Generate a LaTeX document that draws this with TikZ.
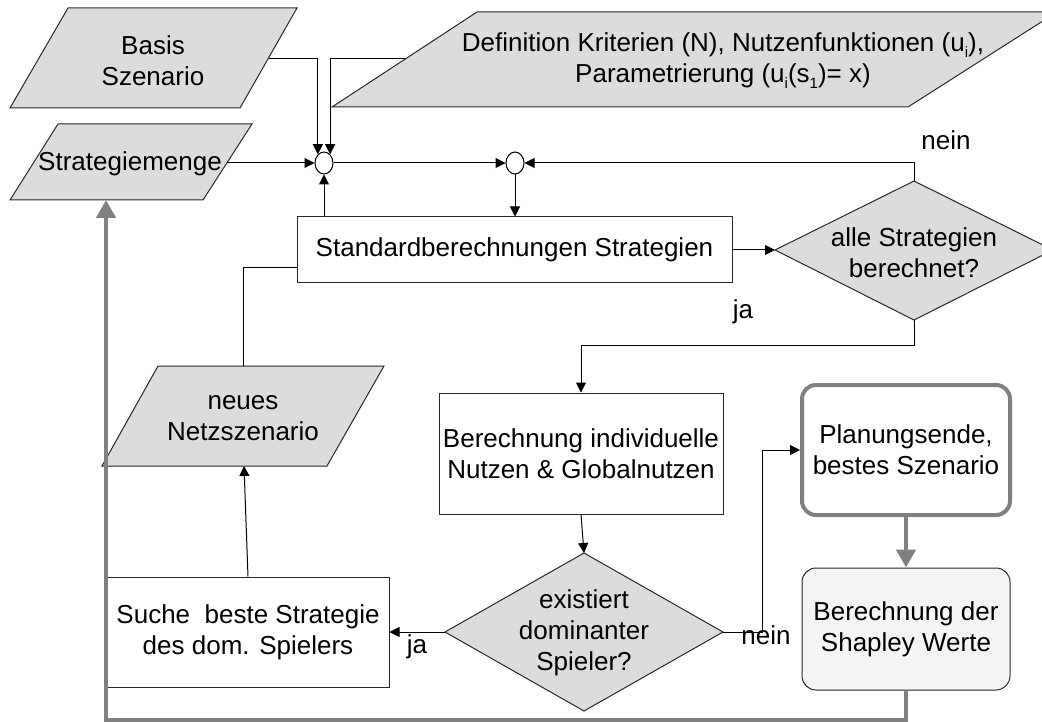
\documentclass[tikz,border=0pt]{standalone}
\usepackage{fontspec}
\setmainfont{Liberation Sans}
\usetikzlibrary{arrows.meta,shapes.geometric}
\definecolor{pfill}{RGB}{220,220,220}
\definecolor{gr}{RGB}{128,128,128}
\definecolor{shfill}{RGB}{244,244,244}
\definecolor{edge}{RGB}{40,40,40}
\newcommand\mysub[1]{\raisebox{-6pt}{\fontsize{15}{15}\selectfont #1}}
\begin{document}
\begin{tikzpicture}[x=1pt,y=-1pt,
  font=\fontsize{26}{31}\selectfont,
  line/.style={draw=black,line width=1pt},
  arr/.style={line,-{Triangle[length=10pt,width=10pt]}},
  garr/.style={draw=gr,line width=4.5pt,-{Triangle[length=18pt,width=19pt]}},
  para/.style={fill=pfill,draw=edge,line width=1pt},
  txt/.style={align=center,inner sep=0pt},
  boxn/.style={draw=edge,line width=1pt,fill=white,align=center,inner sep=0pt},
  endbox/.style={draw=gr,line width=4pt,fill=white,rounded corners=14pt,align=center,inner sep=0pt},
  shapbox/.style={draw=edge,line width=1pt,fill=shfill,rounded corners=14pt,align=center,inner sep=0pt},
  junc/.style={ellipse,draw=black,line width=1pt,fill=white,minimum width=18pt,minimum height=22pt,inner sep=0pt},
  lbl/.style={inner sep=0pt}]
\useasboundingbox (0,0) rectangle (1042,722);

% parallelograms
\draw[para] (68,8) -- (297,8) -- (240,108) -- (10,108) -- cycle;
\node[txt] (basis) at (153,61) {Basis\\Szenario};
\draw[para] (477,12) -- (1057,12) -- (908,107) -- (332,107) -- cycle;
\node[txt] (defn) at (723,61) {Definition Kriterien (N), Nutzenfunktionen (u\mysub{i}),\\Parametrierung (u\mysub{i}(s\mysub{1})= x)};
\draw[para] (58,124) -- (252,124) -- (203,200) -- (10,200) -- cycle;
\node[txt] (strat) at (130,164) {Strategiemenge};
\draw[para] (158,366) -- (384,366) -- (327,466) -- (102,466) -- cycle;
\node[txt] (neues) at (243,418) {neues\\Netzszenario};

\coordinate (basisR) at (269,59);
\coordinate (defnL) at (405,59);
\coordinate (stratR) at (227,163);
\coordinate (stratB) at (106,200);
\coordinate (neuesT) at (243,366);
\coordinate (neuesB) at (244,466);

% junctions
\node[junc] (c1) at (324,163) {};
\node[junc] (c2) at (515,163) {};

% boxes
\node[boxn,minimum width=435pt,minimum height=66pt] (std) at (514.5,250) {Standardberechnungen Strategien};
\node[boxn,minimum width=284pt,minimum height=121pt] (ber) at (581,453.5) {Berechnung individuelle\\Nutzen \& Globalnutzen};
\node[boxn,minimum width=282pt,minimum height=110pt] (suche) at (248,632) {Suche\ \ beste Strategie\\des dom. Spielers};
\node[endbox,minimum width=208pt,minimum height=130pt] (plan) at (906,450) {Planungsende,\\bestes Szenario};
\node[shapbox,minimum width=208pt,minimum height=122pt] (shap) at (906,629) {Berechnung der\\Shapley Werte};

% diamonds
\coordinate (d1L) at (775,250);
\coordinate (d1T) at (914,181);
\coordinate (d1R) at (1053,250);
\coordinate (d1B) at (914,320);
\draw[para] (d1L) -- (d1T) -- (d1R) -- (d1B) -- cycle;
\node[txt] (alle) at (914,253) {alle Strategien\\berechnet?};
\coordinate (d2L) at (445,632);
\coordinate (d2T) at (584,553);
\coordinate (d2R) at (723,632);
\coordinate (d2B) at (584,711);
\draw[para] (d2L) -- (d2T) -- (d2R) -- (d2B) -- cycle;
\node[txt] (exist) at (584,633) {existiert\\dominanter\\Spieler?};

% connectors
\draw[arr] (basisR) -| (c1.125);
\draw[arr] (defnL) -| (c1.55);
\draw[arr] (stratR) -- (c1.west);
\draw[arr] (c1.east) -- (c2.west);
\draw[arr] (std.north -| c1.south) -- (c1.south);
\draw[arr] (c2.south) -- (c2.south |- std.north);
\draw[arr] (std.east) -- (d1L);
\draw[arr] (d1T) |- (c2.east);
\draw[arr] (d1B) -- ++(0,25) -| (ber.north);
\draw[arr] (ber.south) -- (d2T);
\draw[arr] (d2L) -- (suche.east);
\draw[arr] (suche.north) -- (neuesB);
\coordinate (stdL) at ([yshift=-18pt]std.west);
\draw[line] (neuesT) |- (stdL);
\draw[arr] (d2R) -- ++(39,0) |- (plan.west);
\draw[garr] (plan.south) -- (shap.north);
\coordinate (botL) at (106,720);
\draw[garr] (shap.south) |- (botL) -- (stratB);

% labels
\node[lbl] (nein1) at (946,140) {nein};
\node[lbl] (ja1) at (743,312) {ja};
\node[lbl] (ja2) at (417,647) {ja};
\node[lbl] (nein2) at (766,635) {nein};
\end{tikzpicture}
\end{document}
